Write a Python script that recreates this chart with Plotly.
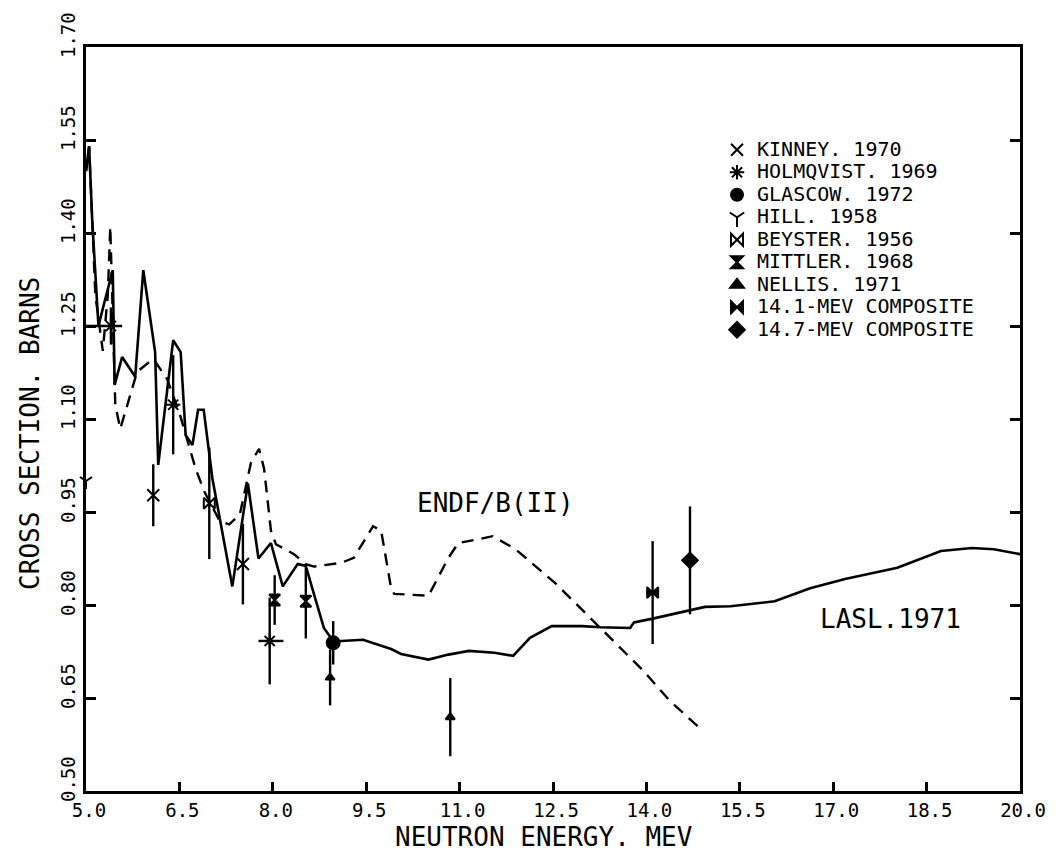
import plotly.graph_objects as go

# ---- LASL 1971 evaluation (solid curve) ----
lasl_e = [5.0, 5.05, 5.1, 5.2, 5.3, 5.43, 5.46, 5.58, 5.79, 5.92, 6.11, 6.16, 6.40,
          6.52, 6.6, 6.71, 6.8, 6.89, 7.03, 7.35, 7.6, 7.77, 7.97, 8.16, 8.4, 8.53,
          8.66, 8.82, 8.97, 9.1, 9.45, 9.9, 10.06, 10.5, 10.82, 11.15, 11.56, 11.86,
          12.13, 12.48, 12.97, 13.26, 13.74, 13.8, 14.1, 14.66, 14.94, 15.35, 16.06,
          16.63, 17.19, 18.03, 18.3, 18.73, 19.23, 19.58, 20.0]
lasl_xs = [1.50, 1.54, 1.42, 1.25, 1.29, 1.34, 1.155, 1.20, 1.168, 1.34, 1.208, 1.026,
           1.227, 1.208, 1.074, 1.058, 1.115, 1.115, 1.004, 0.83, 0.996, 0.875, 0.90,
           0.83, 0.866, 0.863, 0.818, 0.763, 0.742, 0.742, 0.744, 0.729, 0.721, 0.712,
           0.72, 0.726, 0.723, 0.718, 0.747, 0.766, 0.766, 0.764, 0.763, 0.772, 0.778,
           0.79, 0.797, 0.798, 0.806, 0.827, 0.842, 0.86, 0.87, 0.887, 0.892, 0.89,
           0.882]

# ---- ENDF/B(II) evaluation (dashed curve) ----
endf_e = [5.0, 5.05, 5.15, 5.27, 5.35, 5.39, 5.47, 5.55, 5.82, 6.08, 6.3, 6.5, 6.76,
          6.9, 7.15, 7.3, 7.47, 7.65, 7.78, 7.86, 7.97, 8.05, 8.34, 8.53, 8.66, 9.1,
          9.3, 9.61, 9.74, 9.9, 9.95, 10.5, 10.82, 10.98, 11.35, 11.53, 11.9, 12.55,
          13.26, 13.95, 14.37, 14.84]
endf_xs = [1.50, 1.54, 1.30, 1.21, 1.30, 1.41, 1.123, 1.084, 1.176, 1.197, 1.165, 1.11,
           1.02, 0.983, 0.935, 0.93, 0.946, 1.03, 1.052, 1.02, 0.92, 0.898, 0.882, 0.866,
           0.862, 0.868, 0.876, 0.927, 0.92, 0.827, 0.818, 0.815, 0.876, 0.90, 0.907,
           0.911, 0.89, 0.834, 0.763, 0.694, 0.646, 0.603]

# ---- measurements: energy (MeV), cross section (b), error (b), energy spread (MeV) ----
kinney_e, kinney_xs, kinney_err = [6.08, 7.52], [0.977, 0.866], [0.05, 0.065]
holmqvist_e, holmqvist_xs = [5.40, 6.40, 7.95], [1.25, 1.123, 0.742]
holmqvist_err = [0.03, 0.08, 0.07]
holmqvist_de_hi, holmqvist_de_lo = [0.18, 0.0, 0.22], [0.40, 0.0, 0.18]
glasgow_e, glasgow_xs, glasgow_err = [8.97], [0.739], [0.035]
hill_e, hill_xs, hill_err = [5.0], [1.0], [0.0]
beyster_e, beyster_xs, beyster_err = [6.98], [0.964], [0.09]
mittler_e, mittler_xs, mittler_err = [8.03, 8.53], [0.808, 0.806], [0.04, 0.06]
nellis_e, nellis_xs, nellis_err = [8.92, 10.85], [0.683, 0.619], [0.045, 0.063]
c141_e, c141_xs, c141_err = [14.1], [0.82], [0.083]
c147_e, c147_xs, c147_err = [14.7], [0.872], [0.087]

x_ticks = [5.0, 6.5, 8.0, 9.5, 11.0, 12.5, 14.0, 15.5, 17.0, 18.5, 20.0]
y_ticks = [0.50, 0.65, 0.80, 0.95, 1.10, 1.25, 1.40, 1.55, 1.70]

FONT = "DejaVu Sans Mono"
INK = "black"

fig = go.Figure()

fig.add_trace(go.Scatter(x=lasl_e, y=lasl_xs, mode="lines", showlegend=False,
                         line=dict(color=INK, width=2.6)))
fig.add_trace(go.Scatter(x=endf_e, y=endf_xs, mode="lines", showlegend=False,
                         line=dict(color=INK, width=2.4, dash="12px,8px")))


def legend_name(text):
    return f'<span style="font-size:20px">{text}</span>'


def points(name, e, xs, err, symbol, size=12, de_hi=None, de_lo=None):
    tr = go.Scatter(
        x=e, y=xs, mode="markers", name=legend_name(name), cliponaxis=False,
        marker=dict(symbol=symbol, size=size, color=INK,
                    line=dict(color=INK, width=2)),
        error_y=dict(type="data", array=err, visible=True, color=INK,
                     thickness=2.4, width=0),
    )
    if de_hi is not None:
        tr.error_x = dict(type="data", array=de_hi, arrayminus=de_lo, visible=True,
                          color=INK, thickness=2.4, width=0)
    fig.add_trace(tr)


points("KINNEY. 1970", kinney_e, kinney_xs, kinney_err, "x-thin-open")
points("HOLMQVIST. 1969", holmqvist_e, holmqvist_xs, holmqvist_err,
       "asterisk-open", de_hi=holmqvist_de_hi, de_lo=holmqvist_de_lo)
points("GLASCOW. 1972", glasgow_e, glasgow_xs, glasgow_err, "circle", size=13)
points("HILL. 1958", hill_e, hill_xs, hill_err, "y-down-open", size=10)
points("BEYSTER. 1956", beyster_e, beyster_xs, beyster_err, "bowtie-open", size=11)
points("MITTLER. 1968", mittler_e, mittler_xs, mittler_err, "hourglass", size=11)
points("NELLIS. 1971", nellis_e, nellis_xs, nellis_err, "triangle-up", size=8)
points("14.1-MEV COMPOSITE", c141_e, c141_xs, c141_err, "bowtie", size=11)
points("14.7-MEV COMPOSITE", c147_e, c147_xs, c147_err, "diamond", size=12)

fig.add_annotation(x=11.57, y=0.965, text="ENDF/B(II)", showarrow=False,
                   font=dict(family=FONT, size=26, color=INK))
fig.add_annotation(x=17.92, y=0.778, text="LASL.1971", showarrow=False,
                   font=dict(family=FONT, size=26, color=INK))

# axis titles
fig.add_annotation(xref="paper", yref="paper", x=0.49, y=0, yshift=-46,
                   yanchor="middle", text="NEUTRON ENERGY. MEV", showarrow=False,
                   font=dict(family=FONT, size=26, color=INK))
fig.add_annotation(xref="paper", yref="paper", x=0, xshift=-56, y=0.48,
                   xanchor="center", textangle=-90, text="CROSS SECTION. BARNS",
                   showarrow=False, font=dict(family=FONT, size=26, color=INK))

axis_common = dict(showgrid=False, zeroline=False, showline=True, linecolor=INK,
                   linewidth=3, ticks="inside", tickcolor=INK, tickwidth=2.5,
                   tickfont=dict(family=FONT, size=19, color=INK))

fig.update_xaxes(range=[5.0, 20.0], tickvals=x_ticks,
                 ticktext=[f"{v:.1f}" for v in x_ticks], ticklen=9, mirror=True,
                 ticklabelshift=3, **axis_common)
fig.update_yaxes(range=[0.50, 1.70], tickvals=y_ticks,
                 ticktext=[f"{v:.2f}" for v in y_ticks], ticklen=10,
                 mirror="ticks", tickangle=-90, ticklabelshift=-9, **axis_common)

fig.update_layout(
    width=1062, height=853,
    margin=dict(l=86, r=42, t=43, b=62),
    paper_bgcolor="white", plot_bgcolor="white",
    font=dict(family=FONT, color=INK),
    legend=dict(x=0.6756, y=0.8837, xanchor="left", yanchor="top",
                bgcolor="rgba(0,0,0,0)", tracegroupgap=0, itemsizing="constant",
                font=dict(family=FONT, size=15, color=INK), itemwidth=30),
)

fig.write_html("out.html")
